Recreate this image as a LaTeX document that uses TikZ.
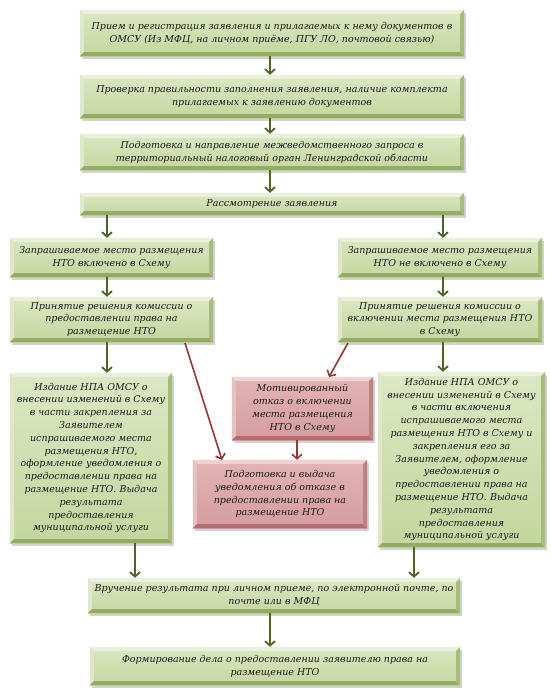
\documentclass[tikz,border=0pt]{standalone}
\usepackage{fontspec}
\setmainfont{DejaVu Serif}
\usetikzlibrary{arrows.meta,shadows,calc}
\definecolor{gTopC}{HTML}{DCE7C3}
\definecolor{gBotC}{HTML}{C4D69E}
\definecolor{gtop}{HTML}{EAF1DB}
\definecolor{gleft}{HTML}{DFE9CA}
\definecolor{gbottom}{HTML}{95AB63}
\definecolor{gright}{HTML}{A7BC7B}
\definecolor{pTopC}{HTML}{E3B4B5}
\definecolor{pBotC}{HTML}{D59C9E}
\definecolor{ptop}{HTML}{F0D2D3}
\definecolor{pleft}{HTML}{E7C1C2}
\definecolor{pbottom}{HTML}{B06E71}
\definecolor{pright}{HTML}{BE8184}
\definecolor{arrG}{HTML}{4F6228}
\definecolor{arrR}{HTML}{953735}
\definecolor{txt}{HTML}{1A1A1A}
\tikzset{
  boxg/.style={rectangle, top color=gTopC, bottom color=gBotC, inner sep=0pt, align=center,
    font=\fontsize{9.5}{12.8}\selectfont\itshape, text=txt,
    drop shadow={shadow xshift=2pt, shadow yshift=-2.5pt, opacity=0.35}},
  boxp/.style={rectangle, top color=pTopC, bottom color=pBotC, inner sep=0pt, align=center,
    font=\fontsize{9.5}{12.8}\selectfont\itshape, text=txt,
    drop shadow={shadow xshift=2pt, shadow yshift=-2.5pt, opacity=0.35}},
  arrg/.style={draw=arrG, line width=1.8pt, -{Straight Barb[length=4.5pt,width=10pt]}},
  arrr/.style={draw=arrR, line width=1.6pt, -{Straight Barb[length=4.5pt,width=10pt]}},
}
% #1 name, #2 x1, #3 y1, #4 x2, #5 y2, #6 palette (g/p), #7 text
\newcommand\flowbox[7]{%
  \pgfmathsetmacro\bw{#4-#2}\pgfmathsetmacro\bh{#5-#3}%
  \pgfmathsetmacro\bx{(#2+#4)/2}\pgfmathsetmacro\by{(#3+#5)/2}%
  \node[box#6, minimum width=\bw pt, minimum height=\bh pt] (#1) at (\bx,\by) {#7};
  \fill[#6top] (#1.north west) -- (#1.north east) -- ([shift={(-4pt,-4pt)}]#1.north east) -- ([shift={(4pt,-4pt)}]#1.north west) -- cycle;
  \fill[#6left] (#1.north west) -- ([shift={(4pt,-4pt)}]#1.north west) -- ([shift={(4pt,4pt)}]#1.south west) -- (#1.south west) -- cycle;
  \fill[#6bottom] (#1.south west) -- ([shift={(4pt,4pt)}]#1.south west) -- ([shift={(-4pt,4pt)}]#1.south east) -- (#1.south east) -- cycle;
  \fill[#6right] (#1.south east) -- ([shift={(-4pt,4pt)}]#1.south east) -- ([shift={(-4pt,-4pt)}]#1.north east) -- (#1.north east) -- cycle;
}
\begin{document}
\begin{tikzpicture}[x=1pt,y=-1pt]
\useasboundingbox[fill=white] (0,0) rectangle (550,696);

\flowbox{b1}{80}{10}{464}{56}{g}{Прием и регистрация заявления и прилагаемых к нему документов в\\ОМСУ (Из МФЦ, на личном приёме, ПГУ ЛО, почтовой связью)}
\flowbox{b2}{80}{75}{464}{118}{g}{Проверка правильности заполнения заявления, наличие комплекта\\прилагаемых к заявлению документов}
\flowbox{b3}{80}{134}{464}{170}{g}{Подготовка и направление межведомственного запроса в\\территориальный налоговый орган Ленинградской области}
\flowbox{b4}{80}{193}{464}{215}{g}{Рассмотрение заявления}

\flowbox{b5l}{10}{238}{213}{277}{g}{Запрашиваемое место размещения\\НТО включено в Схему}
\flowbox{b5r}{338}{238}{542}{277}{g}{Запрашиваемое место размещения\\НТО не включено в Схему}
\flowbox{b6l}{10}{297}{213}{342}{g}{\fontsize{9.5}{12}\selectfont Принятие решения комиссии о\\предоставлении права на\\размещение НТО}
\flowbox{b6r}{338}{297}{542}{342}{g}{\fontsize{9.5}{12}\selectfont Принятие решения комиссии о\\включении места размещения НТО\\в Схему}

\flowbox{b7l}{10}{373}{172}{543}{g}{Издание НПА ОМСУ о\\внесении изменений в Схему\\в части закрепления за\\Заявителем\\испрашиваемого места\\размещения НТО,\\оформление уведомления о\\предоставлении права на\\размещение НТО. Выдача\\результата\\предоставления\\муниципальной услуги}
\flowbox{b7r}{378}{372}{545}{547}{g}{Издание НПА ОМСУ о\\внесении изменений в Схему\\в части включения\\испрашиваемого места\\размещения НТО в Схему и\\закрепления его за\\Заявителем, оформление\\уведомления о\\предоставлении права на\\размещение НТО. Выдача\\результата\\предоставления\\муниципальной услуги}

\flowbox{p1}{232}{377}{373}{440}{p}{Мотивированный\\отказ о включении\\места размещения\\НТО в Схему}
\flowbox{p2}{193}{460}{367}{528}{p}{Подготовка и выдача\\уведомления об отказе в\\предоставлении права на\\размещение НТО}

\flowbox{b8}{88}{578}{460}{613}{g}{Вручение результата при личном приеме, по электронной почте, по\\почте или в МФЦ}
\flowbox{b9}{90}{647}{460}{685}{g}{Формирование дела о предоставлении заявителю права на\\размещение НТО}

% connectors
\coordinate (c12) at (270,56);
\coordinate (c23) at (270,118);
\coordinate (c34) at (270,170);
\draw[arrg] (c12) -- (c12 |- b2.north);
\draw[arrg] (c23) -- (c23 |- b3.north);
\draw[arrg] (c34) -- (c34 |- b4.north);
\coordinate (c4l) at (107,215);
\coordinate (c4r) at (443,215);
\draw[arrg] (c4l) -- (c4l |- b5l.north);
\draw[arrg] (c4r) -- (c4r |- b5r.north);
\coordinate (c5l) at (107,277);
\coordinate (c5r) at (443,277);
\draw[arrg] (c5l) -- (c5l |- b6l.north);
\draw[arrg] (c5r) -- (c5r |- b6r.north);
\coordinate (c6l) at (107,342);
\coordinate (c6r) at (443,342);
\draw[arrg] (c6l) -- (c6l |- b7l.north);
\draw[arrg] (c6r) -- (c6r |- b7r.north);

\coordinate (r1s) at (185,343);
\coordinate (r1e) at (222,460);
\draw[arrr] (r1s) -- (r1e);
\coordinate (r2s) at (348,343);
\coordinate (r2e) at (329,377);
\draw[arrr] (r2s) -- (r2e);
\coordinate (r3s) at (297,440);
\draw[arrr] (r3s) -- (r3s |- p2.north);

\coordinate (c7l) at (135,543);
\coordinate (c7r) at (414,547);
\draw[arrg] (c7l) -- (c7l |- b8.north);
\draw[arrg] (c7r) -- (c7r |- b8.north);
\coordinate (c89) at (270,613);
\draw[arrg] (c89) -- (c89 |- b9.north);
\end{tikzpicture}
\end{document}
